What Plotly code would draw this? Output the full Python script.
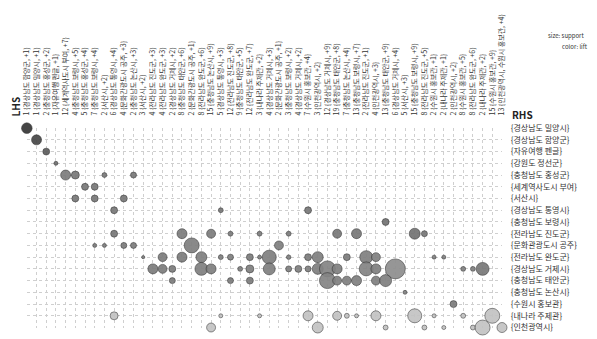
import plotly.graph_objects as go

# Grouped matrix of association rules: LHS groups (columns) vs. RHS items (rows)
rhs_items = [
    "{경상남도 밀양시}", "{경상남도 함양군}", "{자유여행 펜글}", "{강원도 정선군}",
    "{충청남도 홍성군}", "{세계역사도시 부여}", "{서산시}", "{경상남도 통영시}",
    "{충청남도 보령시}", "{전라남도 진도군}", "{문화관광도시 공주}", "{전라남도 완도군}",
    "{경상남도 거제시}", "{충청남도 태안군}", "{충청남도 논산시}", "{수원시 홍보관}",
    "{내나라 주제관}", "{인천광역시}",
]

lhs_groups = [
    "1 {경상남도 함양군, +1}", "1 {경상남도 밀양시, +1}", "2 {충청남도 홍성군, +2}",
    "1 {자유여행 펜글, +1}", "12 {세계역사도시 부여, +7}", "4 {충청남도 보령시, +5}",
    "5 {충청남도 홍성군, +4}", "7 {충청남도 보령시, +4}", "2 {서산시, +2}",
    "6 {경상남도 통영시, +4}", "4 {문화관광도시 공주, +3}", "2 {충청남도 논산시, +3}",
    "3 {서산시, +2}", "4 {전라남도 진도군, +3}", "4 {전라남도 완도군, +3}",
    "2 {경상남도 거제시, +2}", "8 {충청남도 태안군, +6}", "2 {문화관광도시 공주, +1}",
    "8 {전라남도 완도군, +6}", "15 {충청남도 논산시, +9}", "5 {경상남도 통영시, +3}",
    "12 {전라남도 진도군, +8}", "9 {충청남도 태안군, +5}", "12 {전라남도 완도군, +7}",
    "3 {내나라 주제관, +2}", "4 {경상남도 거제시, +3}", "2 {문화관광도시 공주, +1}",
    "3 {충청남도 보령시, +2}", "4 {경상남도 거제시, +2}", "7 {수원시 홍보관, +4}",
    "3 {인천광역시, +2}", "12 {경상남도 거제시, +9}", "19 {충청남도 태안군, +8}",
    "7 {충청남도 논산시, +4}", "13 {충청남도 보령시, +7}", "2 {전라남도 진도군, +1}",
    "4 {인천광역시, +3}", "13 {충청남도 태안군, +9}", "6 {경상남도 거제시, +4}",
    "5 {서산시, +3}", "15 {충청남도 보령시, +9}", "8 {전라남도 진도군, +5}",
    "2 {수원시 홍보관, +1}", "2 {내나라 주제관, +1}", "2 {인천광역시, +2}",
    "8 {수원시 홍보관, +5}", "8 {전라남도 완도군, +6}", "2 {내나라 주제관, +2}",
    "15 {수원시 홍보관, +9}", "13 {인천광역시, 수원시 홍보관, +4}",
]

# One entry per aggregated rule group: (row = RHS index, col = LHS group index)
rule_rhs = [
    0, 1, 2, 3,
    4, 4, 4, 4,
    5, 5,
    6, 6, 6,
    7, 7, 7,
    8,
    9, 9, 9, 9, 9, 9, 9, 9, 9, 9,
    10, 10, 10, 10, 10, 10,
    11, 11, 11, 11, 11, 11, 11, 11, 11, 11, 11, 11, 11, 11, 11, 11, 11,
    12, 12, 12, 12, 12, 12, 12, 12, 12, 12, 12, 12, 12, 12, 12, 12, 12, 12, 12, 12,
    13, 13, 13, 13, 13, 13, 13, 13, 13,
    14,
    15,
    16, 16, 16, 16, 16, 16, 16, 16, 16, 16, 16, 16,
    17, 17, 17, 17, 17, 17, 17, 17,
]
rule_lhs = [
    0, 1, 2, 3,
    4, 5, 8, 11,
    6, 7,
    5, 7, 10,
    9, 20, 29,
    37,
    9, 16, 19, 21, 24, 27, 32, 34, 40, 41,
    7, 8, 10, 11, 17, 26,
    12, 14, 16, 18, 20, 21, 23, 24, 25, 27, 29, 30, 33, 35, 36, 42, 43,
    13, 14, 15, 18, 19, 22, 23, 25, 27, 28, 29, 30, 31, 32, 35, 36, 38, 45, 46, 47,
    15, 21, 23, 31, 32, 33, 34, 36, 37,
    39,
    44,
    9, 20, 24, 29, 32, 33, 34, 36, 40, 42, 45, 48,
    19, 30, 37, 41, 43, 46, 47, 49,
]
support = [
    0.028, 0.025, 0.012, 0.004,
    0.025, 0.016, 0.006, 0.009,
    0.012, 0.012,
    0.012, 0.012, 0.012,
    0.012, 0.006, 0.012,
    0.012,
    0.012, 0.025, 0.020, 0.006, 0.006, 0.006, 0.020, 0.025, 0.030, 0.009,
    0.004, 0.004, 0.009, 0.009, 0.056, 0.020,
    0.0025, 0.020, 0.025, 0.030, 0.006, 0.009, 0.012, 0.004, 0.049, 0.005,
    0.012, 0.030, 0.012, 0.042, 0.020, 0.004, 0.004,
    0.025, 0.020, 0.012, 0.042, 0.025, 0.006, 0.016, 0.036, 0.009, 0.012,
    0.009, 0.030, 0.064, 0.025, 0.049, 0.025, 0.100, 0.006, 0.006, 0.042,
    0.009, 0.009, 0.012, 0.064, 0.020, 0.020, 0.025, 0.020, 0.036,
    0.004,
    0.012,
    0.016, 0.004, 0.004, 0.025, 0.020, 0.006, 0.004, 0.025, 0.049, 0.004, 0.006, 0.056,
    0.020, 0.030, 0.006, 0.006, 0.004, 0.006, 0.056, 0.025,
]
lift = [
    9.2, 8.4, 7.3, 6.5,
    5.8, 6.0, 6.0, 6.0,
    6.0, 6.0,
    6.0, 6.0, 6.0,
    6.0, 6.0, 6.0,
    6.3,
    6.0, 5.8, 5.8, 5.8, 5.8, 5.8, 6.0, 6.0, 6.3, 6.0,
    5.8, 5.8, 5.8, 5.8, 5.6, 5.6,
    5.6, 5.8, 5.8, 5.6, 5.6, 5.6, 5.8, 5.6, 5.6, 5.6,
    5.8, 5.6, 5.8, 5.6, 5.6, 5.6, 5.6,
    5.8, 5.8, 5.8, 5.6, 5.6, 5.6, 5.6, 5.6, 5.6, 5.6,
    5.6, 5.6, 5.4, 5.6, 5.4, 5.6, 4.9, 5.6, 5.6, 6.0,
    5.8, 5.8, 5.8, 5.4, 5.6, 5.6, 5.6, 5.6, 5.6,
    5.6,
    5.8,
    2.3, 2.3, 2.3, 2.3, 2.3, 2.3, 2.3, 2.3, 2.3, 2.3, 2.3, 2.3,
    2.3, 2.3, 2.3, 2.3, 2.3, 2.3, 2.3, 2.3,
]

W, H = 597, 339
FONT = "Noto Sans CJK KR, Noto Sans, sans-serif"

fig = go.Figure()
fig.add_trace(go.Scatter(
    x=rule_lhs, y=rule_rhs, mode="markers", cliponaxis=False,
    marker=dict(
        size=support, sizemode="area", sizeref=0.0005,
        color=lift, cmin=1, cmax=10,
        colorscale=[[0, "#dedede"], [1, "#262626"]],
        opacity=0.92,
        line=dict(color="rgba(40,40,40,0.55)", width=1),
    ),
    hovertemplate="LHS %{x}<br>RHS %{y}<extra></extra>",
))

n_cols = len(lhs_groups)
n_rows = len(rhs_items)
x0_px, dx_px = 21.0, 9.87
y0_px, dy_px = 126.0, 12.15
x_dom = [x0_px / W, (x0_px + (n_cols - 1) * dx_px) / W]
y_dom = [1 - (y0_px + (n_rows - 1) * dy_px) / H, 1 - y0_px / H]

fig.update_layout(
    width=W, height=H,
    margin=dict(l=0, r=0, t=0, b=0),
    paper_bgcolor="white", plot_bgcolor="white",
    showlegend=False,
    font=dict(family=FONT, color="#333333"),
    xaxis=dict(
        domain=x_dom, range=[-0.02, n_cols - 1 + 0.02],
        side="top", tickmode="array",
        tickvals=list(range(n_cols)), ticktext=lhs_groups,
        tickangle=-90, tickfont=dict(size=7, color="#333333", family=FONT),
        ticks="outside", ticklen=10, tickcolor="rgba(0,0,0,0)",
        showgrid=True, gridcolor="#cfcfcf", griddash="dot", gridwidth=1,
        zeroline=False, showline=False, fixedrange=True,
    ),
    yaxis=dict(
        domain=y_dom, range=[n_rows - 1 + 0.02, -0.02],
        side="right", tickmode="array",
        tickvals=list(range(n_rows)), ticktext=rhs_items,
        tickfont=dict(size=8, color="#333333", family=FONT),
        ticks="outside", ticklen=6, tickcolor="rgba(0,0,0,0)",
        showgrid=True, gridcolor="#cfcfcf", griddash="dot", gridwidth=1,
        zeroline=False, showline=False, fixedrange=True,
    ),
    annotations=[
        dict(text="<b>RHS</b>", x=513 / W, y=1 - 112 / H, xref="paper", yref="paper",
             xanchor="left", yanchor="middle", showarrow=False,
             font=dict(size=10, color="#222222", family=FONT)),
        dict(text="<b>LHS</b>", x=10 / W, y=1 - 104 / H, xref="paper", yref="paper",
             xanchor="center", yanchor="middle", showarrow=False, textangle=-90,
             font=dict(size=10, color="#222222", family=FONT)),
        dict(text="size: support", x=549 / W, y=1 - 31 / H, xref="paper", yref="paper",
             xanchor="left", yanchor="middle", showarrow=False,
             font=dict(size=6, color="#333333", family=FONT)),
        dict(text="color: lift", x=563 / W, y=1 - 42 / H, xref="paper", yref="paper",
             xanchor="left", yanchor="middle", showarrow=False,
             font=dict(size=6, color="#333333", family=FONT)),
    ],
)

fig.write_html("out.html")
